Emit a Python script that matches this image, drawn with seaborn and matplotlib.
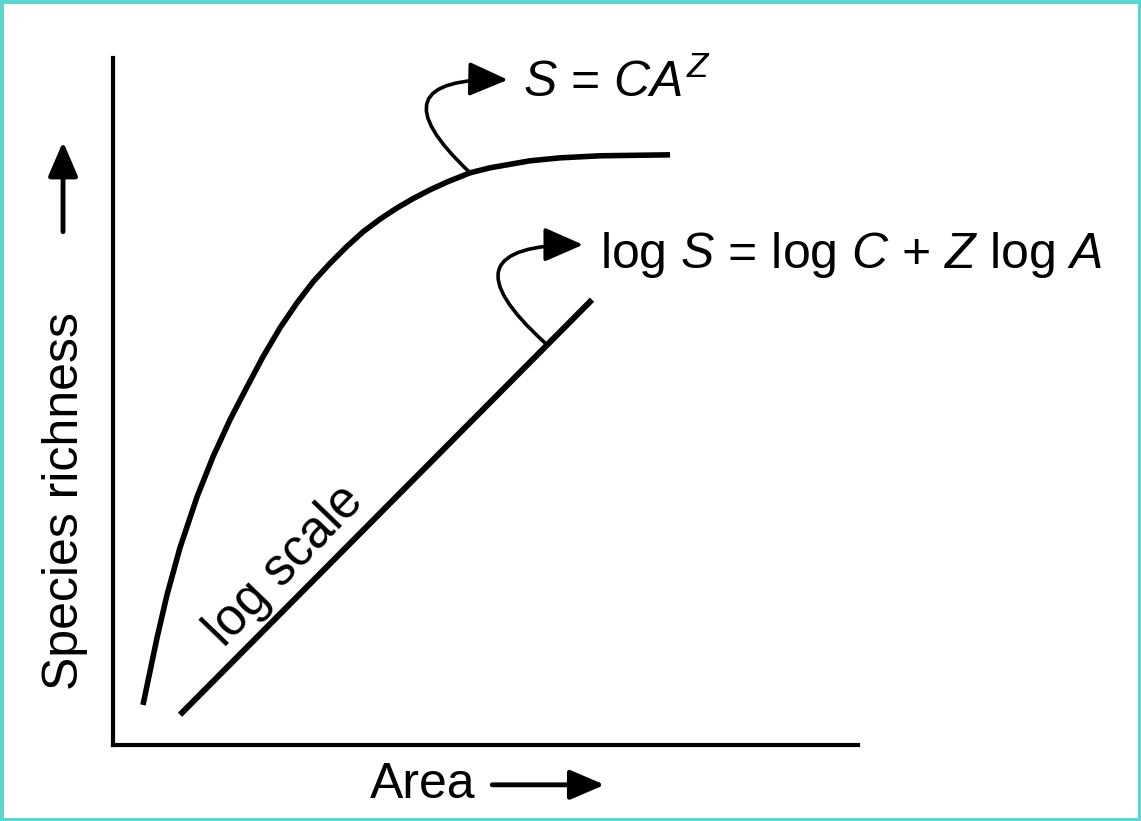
import matplotlib
matplotlib.use("Agg")
import matplotlib.pyplot as plt
import seaborn as sns
import pandas as pd

# species-area curve (axes units 0-100)
area_curve = [4.03, 5.91, 7.25, 8.99, 11.28, 13.42, 15.70, 17.99, 20.13, 22.42,
              24.70, 26.85, 29.13, 31.41, 33.56, 35.84, 38.12, 40.27, 42.55,
              44.83, 47.92, 50.60, 55.97, 60.00, 65.37, 74.77]
richness_curve = [5.82, 15.57, 21.83, 28.68, 36.10, 41.92, 47.31, 52.11, 56.48, 60.70,
                  64.34, 67.39, 70.09, 72.56, 74.67, 76.52, 78.15, 79.50, 80.79,
                  81.92, 83.26, 83.99, 85.01, 85.44, 85.74, 85.88]

# straight line on log scale
area_log = [9.0, 64.3]
richness_log = [4.4, 64.8]

curve_label = "$S$ = $CA^{Z}$"
log_label = "log $S$ = log $C$ + $Z$ log $A$"
x_label = "Area"
y_label = "Species richness"

sns.set_theme(style="white")
plt.rcParams["font.family"] = ["Liberation Sans", "DejaVu Sans"]
plt.rcParams["mathtext.fontset"] = "custom"
plt.rcParams["mathtext.rm"] = "Liberation Sans"
plt.rcParams["mathtext.it"] = "Liberation Sans:italic"

curve_df = pd.DataFrame({"area": area_curve, "richness": richness_curve})
log_df = pd.DataFrame({"area": area_log, "richness": richness_log})

fig = plt.figure(figsize=(11.41, 8.21), dpi=100)
ax = fig.add_axes([0.099, 0.0926, 0.653, 0.837])

sns.lineplot(data=curve_df, x="area", y="richness", color="black", lw=4,
             estimator=None, ax=ax, solid_capstyle="butt", solid_joinstyle="round")
sns.lineplot(data=log_df, x="area", y="richness", color="black", lw=4.3,
             estimator=None, ax=ax, solid_capstyle="butt")

ax.set_xlim(0, 100)
ax.set_ylim(0, 100)
ax.set_xticks([])
ax.set_yticks([])
for side in ["top", "right"]:
    ax.spines[side].set_visible(False)
for side in ["left", "bottom"]:
    ax.spines[side].set_color("black")
    ax.spines[side].set_linewidth(3)

# axis labels with arrows
ax.set_xlabel(x_label, fontsize=36, va="center", color="black")
ax.xaxis.set_label_coords(0.416, -0.058)
ax.set_ylabel(y_label, fontsize=36, va="center", color="black")
ax.yaxis.set_label_coords(-0.064, 0.355)

big_arrow = dict(arrowstyle="-|>,head_length=0.7,head_width=0.3", color="black",
                 lw=3.5, mutation_scale=30, shrinkA=0, shrinkB=0)
ax.annotate("", xy=(0.660, -0.058), xytext=(0.509, -0.058),
            xycoords="axes fraction", textcoords="axes fraction",
            arrowprops=big_arrow, annotation_clip=False)
ax.annotate("", xy=(-0.067, 0.878), xytext=(-0.067, 0.747),
            xycoords="axes fraction", textcoords="axes fraction",
            arrowprops=big_arrow, annotation_clip=False)

# curved pointers to the equations
hook = dict(arrowstyle="-|>,head_length=0.8,head_width=0.35", color="black",
            lw=2.6, mutation_scale=30, shrinkA=0, shrinkB=0,
            connectionstyle="arc3,rad=-1.3")
ax.annotate("", xy=(53.0, 96.8), xytext=(47.9, 83.3), arrowprops=hook,
            annotation_clip=False)
ax.annotate("", xy=(63.1, 72.8), xytext=(58.0, 58.5), arrowprops=hook,
            annotation_clip=False)

ax.text(55.0, 94.3, curve_label, fontsize=36, ha="left", va="baseline",
        color="black", clip_on=False)
ax.text(65.4, 69.4, log_label, fontsize=36, ha="left", va="baseline",
        color="black", clip_on=False)
ax.text(23.0, 26.0, "log scale", fontsize=37, rotation=46, ha="center",
        va="center", color="black", rotation_mode="anchor")

# teal frame round the picture
fig.add_artist(plt.Rectangle((0, 0), 1, 1, transform=fig.transFigure,
                             fill=False, edgecolor="#5ad6d0", lw=5))

fig.savefig("out.png", dpi=100, facecolor="white")
